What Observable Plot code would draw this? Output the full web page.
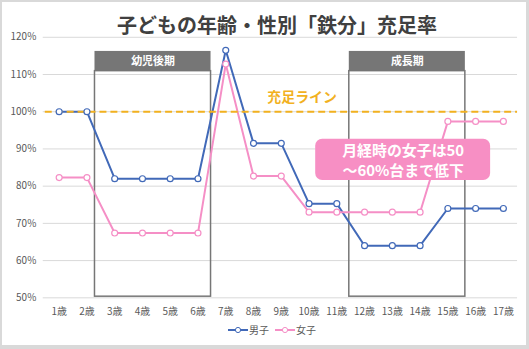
<!DOCTYPE html>
<html>
<head>
<meta charset="utf-8">
<script src="https://cdn.jsdelivr.net/npm/d3@7"></script>
<script src="https://cdn.jsdelivr.net/npm/@observablehq/plot@0.6"></script>
<style>
  html, body { margin: 0; padding: 0; background: #d9d9d9; }
  #wrap { position: absolute; left: 2px; top: 2px; width: 524px; height: 343px; background: #fff; overflow: hidden; }
  #chart { position: absolute; left: -2px; top: -2px; }
  #title { position: absolute; left: 0; top: 10px; width: 550px; text-align: center; font-family: "Noto Sans CJK JP", sans-serif; font-weight: bold; font-size: 20px; color: #404040; line-height: 26px; }
  #legend { position: absolute; top: 320px; left: 226px; font-family: "Noto Sans CJK JP", sans-serif; font-size: 10px; color: #595959; display: flex; gap: 6px; align-items: center; }
  .item { display: flex; align-items: center; }
</style>
</head>
<body>
<div id="wrap">
  <div id="chart"></div>
  <div id="title">子どもの年齢・性別「鉄分」充足率</div>
  <div id="legend"></div>
</div>
<script>
const ages = [1,2,3,4,5,6,7,8,9,10,11,12,13,14,15,16,17];
const ageLabels = ages.map(a => a + "歳");
const boys  = [100,100,82,82,82,82,116.5,91.5,91.5,75.3,75.3,64,64,64,74,74,74];
const girls = [82.3,82.3,67.4,67.4,67.4,67.4,112.8,82.7,82.7,73,73,73,73,73,97.4,97.4,97.4];
const seriesNames = ["男子","女子"];
const seriesColors = ["#4169b8","#f58fc6"];
const yTicks = [50,60,70,80,90,100,110,120];
const targetLine = 100;
const targetLabel = "充足ライン";
const periods = [
  {name: "幼児後期", from: 2.29, to: 6.47},
  {name: "成長期", from: 11.45, to: 15.63}
];
const periodBottom = 50.3, periodTop = 110.9, periodHeaderTop = 116.2;
const calloutText = "月経時の女子は50\n～60%台まで低下";

const rows = [];
ages.forEach((a, i) => {
  rows.push({age: a, value: boys[i], series: seriesNames[0]});
  rows.push({age: a, value: girls[i], series: seriesNames[1]});
});

const font = "'Noto Sans CJK JP', sans-serif";
const plot = Plot.plot({
  width: 529,
  height: 349,
  marginTop: 37,
  marginBottom: 50,
  marginLeft: 43,
  marginRight: 9,
  style: {fontFamily: font, fontSize: "10px", color: "#595959", background: "transparent"},
  x: {domain: [0.427, 17.51], axis: null},
  y: {domain: [50, 120], axis: null},
  color: {domain: seriesNames, range: seriesColors},
  marks: [
    Plot.ruleY(yTicks, {stroke: "#d9d9d9", strokeWidth: 1}),
    Plot.text(yTicks, {x: 0.427, y: d => d, text: d => d + "%", textAnchor: "end", dx: -7, fill: "#595959", fontSize: 10}),
    Plot.text(ages, {x: d => d, y: 50, text: (d, i) => ageLabels[i], dy: 14, fill: "#595959", fontSize: 10}),
    Plot.rect(periods, {x1: "from", x2: "to", y1: periodBottom, y2: periodTop, fill: "none", stroke: "#767676", strokeWidth: 1.5}),
    Plot.rect(periods, {x1: "from", x2: "to", y1: periodTop, y2: periodHeaderTop, fill: "#767676"}),
    Plot.text(periods, {x: d => (d.from + d.to) / 2, y: (periodTop + periodHeaderTop) / 2, text: "name", fill: "white", fontWeight: "bold", fontSize: 11}),
    Plot.line(rows, {x: "age", y: "value", z: "series", stroke: "series", strokeWidth: 2}),
    Plot.ruleY([targetLine], {x1: 0.5, x2: 17.51, stroke: "#f2b11f", strokeWidth: 2, strokeDasharray: "7,4"}),
    Plot.dot(rows, {x: "age", y: "value", stroke: "series", fill: "white", r: 3, strokeWidth: 1.2}),
    Plot.text([targetLabel], {x: 9.75, y: 103.7, text: d => d, fill: "#f2b11f", fontWeight: "bold", fontSize: 14}),
    Plot.rect([0], {x1: 10.24, x2: 16.54, y1: 81.5, y2: 92.6, fill: "#f78fc4", rx: 7}),
    Plot.text([calloutText], {x: 13.39, y: 87.05, text: d => d, fill: "white", fontWeight: "bold", fontSize: 15, lineHeight: 1.3})
  ]
});
document.getElementById("chart").appendChild(plot);

const legend = document.getElementById("legend");
seriesNames.forEach((n, i) => {
  const item = document.createElement("div");
  item.className = "item";
  item.innerHTML = `<svg width="20" height="8"><line x1="0" y1="4" x2="20" y2="4" stroke="${seriesColors[i]}" stroke-width="2"/><circle cx="10" cy="4" r="2.6" fill="white" stroke="${seriesColors[i]}" stroke-width="1"/></svg><span style="margin-left:1px">${n}</span>`;
  legend.appendChild(item);
});
</script>
</body>
</html>
